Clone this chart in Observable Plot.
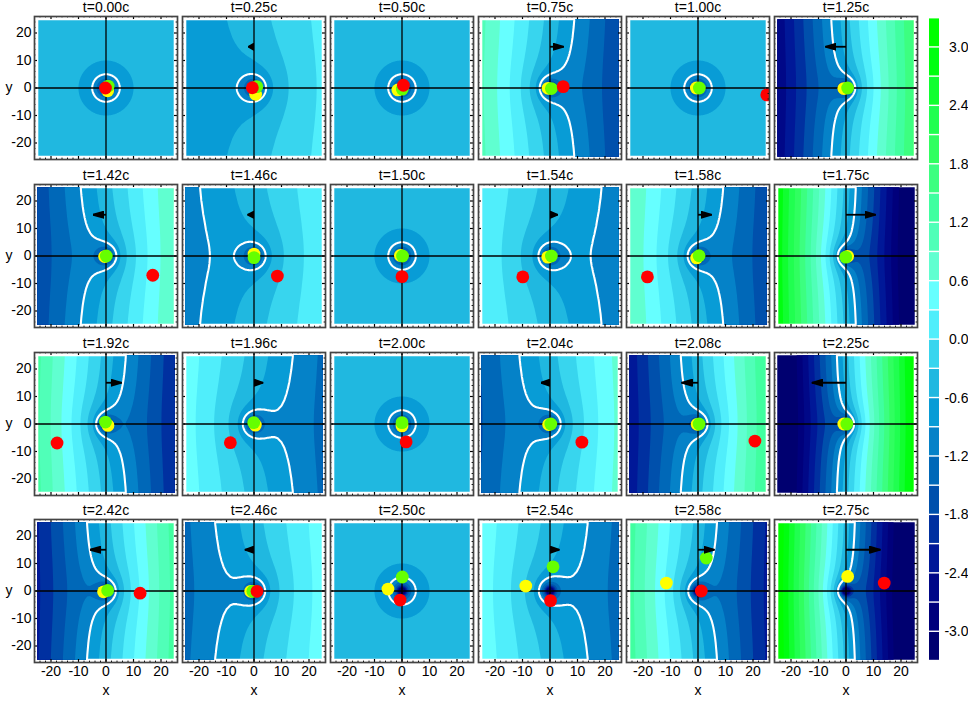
<!DOCTYPE html>
<html>
<head>
<meta charset="utf-8">
<script src="https://cdn.jsdelivr.net/npm/d3@7"></script>
<script src="https://cdn.jsdelivr.net/npm/@observablehq/plot@0.6"></script>
<style>
html,body{margin:0;padding:0;background:#fff;overflow:hidden}
#chart{position:relative;width:968px;height:701px;overflow:hidden}
#chart>svg{position:absolute;overflow:visible}
</style>
</head>
<body>
<div id="chart"></div>
<script>
// ---- panel labels (row by row)
const times = ["0.00","0.25","0.50","0.75","1.00","1.25",
               "1.42","1.46","1.50","1.54","1.58","1.75",
               "1.92","1.96","2.00","2.04","2.08","2.25",
               "2.42","2.46","2.50","2.54","2.58","2.75"];
const slopes = [0,0.019,0,-0.055,0,0.09,
                0.053,0.0257,0,-0.0268,-0.053,-0.135,
                -0.067,-0.035,0,0.044,0.077,0.145,
                0.07,0.035,0,-0.036,-0.07,-0.15];
// ---- arrow tip x at y=15
const arrowTips = [0,-2,0,5,0,-7.5,
                   -4.7,-2.3,0,2.8,5,10.8,
                   5.7,3.3,0,-3.2,-6,-12.4,
                   -5.8,-3.3,0,3.4,6,12.5];
// ---- tracked particles, [x,y] per panel, null when out of view
const yellowDots = [[0.6,-1],[0.6,-2.3],[-1.5,-0.7],[-0.7,-0.1],[-0.6,0],[-0.8,-0.2],
                    [-0.5,-0.2],[0,0.7],[-0.6,0.2],[-0.8,-0.4],[-0.5,-0.7],[0.6,-0.1],
                    [0.7,-0.5],[0.5,-0.4],[0,-0.7],[-0.5,-0.2],[-0.3,-0.1],[-0.8,0],
                    [-0.9,-0.3],[-1.2,-0.1],[-5.1,0.7],[-8.8,1.8],[-11.5,2.9],[0.6,5.3]];
const greenDots = [[0.8,0.7],[1,0.5],[0.1,-0.4],[0.5,-0.2],[0.5,0],[0.6,0],
                   [0.1,0],[0,-0.6],[0.2,0],[0.5,0],[0.4,0.1],[-0.1,-0.4],
                   [-0.2,0.7],[-0.1,0.5],[0,0.5],[0.3,0],[0.4,0],[0.3,0],
                   [0.6,0.2],[-0.4,-0.1],[0.1,5.1],[1.1,8.8],[3,12],null];
const redDots = [[-0.2,0],[-0.6,0.1],[0.5,1],[4.8,0.5],[25,-2.5],null,
                 [17,-7],[8.5,-7.3],[0,-7.5],[-9.9,-7.6],[-18.4,-7.6],null,
                 [-17.8,-6.9],[-8.6,-6.8],[1.5,-6.5],[11.6,-6.6],[20.7,-6.2],null,
                 [12.4,-0.8],[1.1,-0.1],[-0.7,-3.3],[0.2,-3.5],[1.2,0],[13.9,2.9]];
// ---- central potential well: level against distance from the origin
const wellRadius = [0,0.5,1,1.5,2,2.5,3,3.5,4,4.5,5,6,7,8,9,10,12,14,16,18,20,24,28,36];
const wellLevel = [-8,-6.3,-3.3,-2.3,-1.8,-1.5,-1.3,-1.157,-1.05,-0.967,-0.9,-0.8,-0.729,-0.675,-0.633,-0.6,-0.55,-0.514,-0.488,-0.467,-0.45,-0.425,-0.407,-0.383];
// ---- colour bands
const bandEdges = [-3.3,-3.0,-2.7,-2.4,-2.1,-1.8,-1.5,-1.2,-0.9,-0.6,-0.3,0,0.3,0.6,0.9,1.2,1.5,1.8,2.1,2.4,2.7,3.0,3.3];
const bandColors = ["#000070","#00007c","#000888","#001898","#0030a0","#0050ac","#0068b8","#0582c8","#089cd6","#20b8e0","#38d5ee","#50eefb",
                    "#66ffff","#60ffd0","#50ffb8","#40ffa0","#3cff80","#30ff60","#20ff50","#10ff30","#00ff10","#00ff00"];
const colorBreaks = [-3.0,-2.7,-2.4,-2.1,-1.8,-1.5,-1.2,-0.9,-0.6,-0.3,0,0.3,0.6,0.9,1.2,1.5,1.8,2.1,2.4,2.7,3.0];
const fillLevels = [-20,-3.0,-2.7,-2.4,-2.1,-1.8,-1.5,-1.2,-0.9,-0.6,-0.3,0,0.3,0.6,0.9,1.2,1.5,1.8,2.1,2.4,2.7,3.0];
const whiteLevel = [-0.9];
// ---- axes
const majorTicks = [-20,-10,0,10,20];
const minorTicks = [-24,-22,-18,-16,-14,-12,-8,-6,-4,-2,2,4,6,8,12,14,16,18,22,24];
const barTicks = [-3.0,-2.4,-1.8,-1.2,-0.6,0,0.6,1.2,1.8,2.4,3.0];

const FONT = '"Liberation Sans", Arial, sans-serif';
const colX = [34,182,330,478,626,774.3];
const rowY = [16,184,351.5,519];
const PANEL_W = 143, PANEL_H = 143;
const N = 200, SPAN = 50;
const colorScale = {type:"threshold", domain:colorBreaks, range:bandColors};
const well = d3.scaleLinear(wellRadius, wellLevel);
const wellGrid = new Float64Array(N*N);
for (let j=0;j<N;j++) for (let i=0;i<N;i++){
  const gx=-25+(i+.5)*SPAN/N, gy=-25+(j+.5)*SPAN/N;
  wellGrid[j*N+i]=well(Math.hypot(gx,gy));
}
function field(slope){
  const g=new Float64Array(N*N);
  for (let j=0;j<N;j++) for (let i=0;i<N;i++){
    g[j*N+i]=wellGrid[j*N+i]+slope*(-25+(i+.5)*SPAN/N);
  }
  return g;
}
function headMarker(px){
  const h=Math.min(11,Math.max(px,3));
  return ()=>{
    const m=d3.create("svg:marker")
      .attr("viewBox",`${-h} -4 ${h+0.5} 8`).attr("refX",0).attr("refY",0)
      .attr("markerUnits","userSpaceOnUse").attr("markerWidth",h+0.5).attr("markerHeight",8)
      .attr("orient","auto");
    m.append("path").attr("d",`M${-h},-3.2L0,0L${-h},3.2Z`).attr("fill","#000");
    return m.node();
  };
}
const chart=document.getElementById("chart");
times.forEach((t,k)=>{
  const c=k%6,r=Math.floor(k/6);
  const mL=c===0?34:3,mR=2,mT=16,mB=r===3?38:6;
  const grid=field(slopes[k]);
  const dots=[[yellowDots[k],"#ffff00"],[greenDots[k],"#66ff00"],[redDots[k],"#ff0000"]].filter(d=>d[0]);
  const marks=[
    Plot.contour(grid,{width:N,height:N,x1:-25,x2:25,y1:-25,y2:25,fill:Plot.identity,thresholds:fillLevels,blur:0}),
    Plot.contour(grid,{width:N,height:N,x1:-25,x2:25,y1:-25,y2:25,value:Plot.identity,thresholds:whiteLevel,stroke:"white",strokeWidth:2.1,fill:"none",blur:0}),
    Plot.ruleX([0],{stroke:"#000",strokeWidth:1.3}),
    Plot.ruleY([0],{stroke:"#000",strokeWidth:1.3}),
    Plot.dot(dots,{x:d=>d[0][0],y:d=>d[0][1],r:6.4,fill:d=>d[1],stroke:null,clip:true})
  ];
  if(arrowTips[k]!==0){
    marks.push(Plot.link([arrowTips[k]],{x1:0,y1:15,x2:d=>d,y2:15,stroke:"#000",strokeWidth:1.8,markerEnd:headMarker(Math.abs(arrowTips[k])*2.75)}));
  }
  marks.push(
    Plot.ruleX(majorTicks,{x:d=>d,y1:26,y2:24.9,stroke:"#000",strokeWidth:1.2}),
    Plot.ruleX(majorTicks,{x:d=>d,y1:-26,y2:-24.9,stroke:"#000",strokeWidth:1.2}),
    Plot.ruleY(majorTicks,{y:d=>d,x1:26,x2:24.9,stroke:"#000",strokeWidth:1.2}),
    Plot.ruleY(majorTicks,{y:d=>d,x1:-26,x2:-24.9,stroke:"#000",strokeWidth:1.2}),
    Plot.ruleX(minorTicks,{x:d=>d,y1:26,y2:25.5,stroke:"#000",strokeWidth:1}),
    Plot.ruleX(minorTicks,{x:d=>d,y1:-26,y2:-25.5,stroke:"#000",strokeWidth:1}),
    Plot.ruleY(minorTicks,{y:d=>d,x1:26,x2:25.5,stroke:"#000",strokeWidth:1}),
    Plot.ruleY(minorTicks,{y:d=>d,x1:-26,x2:-25.5,stroke:"#000",strokeWidth:1}),
    Plot.frame({stroke:"#444",strokeWidth:1.7}),
    Plot.text(["t="+t+"c"],{frameAnchor:"top",dy:-5,lineAnchor:"bottom",fontSize:14,fill:"#000"})
  );
  if(c===0) marks.push(
    Plot.axisY(majorTicks,{anchor:"left",tickSize:0,tickPadding:3,tickFormat:d=>String(d),label:null,fontSize:14,color:"#000"}),
    Plot.text(["y"],{frameAnchor:"left",dx:-29,fontSize:14,fill:"#000"})
  );
  if(r===3) marks.push(
    Plot.axisX(majorTicks,{anchor:"bottom",tickSize:0,tickPadding:4,tickFormat:d=>String(d),label:null,fontSize:14,color:"#000"}),
    Plot.text(["x"],{frameAnchor:"bottom",dy:28,lineAnchor:"middle",fontSize:14,fill:"#000"})
  );
  const svg=Plot.plot({
    width:PANEL_W+mL+mR,height:PANEL_H+mT+mB,
    marginLeft:mL,marginRight:mR,marginTop:mT,marginBottom:mB,
    x:{domain:[-26,26],axis:null},y:{domain:[-26,26],axis:null},
    color:colorScale,
    style:{fontFamily:FONT,fontSize:"14px",background:"transparent",overflow:"visible"},
    marks
  });
  svg.style.left=(colX[c]-mL)+"px";
  svg.style.top=(rowY[r]-mT)+"px";
  chart.appendChild(svg);
});
// colour bar
const bar=Plot.plot({
  width:43,height:680,marginLeft:4,marginRight:29,marginTop:17.7,marginBottom:19.5,
  x:{domain:[0,1],axis:null},y:{domain:[-3.3,3.3],axis:null},
  color:colorScale,
  style:{fontFamily:FONT,fontSize:"14px",background:"transparent",overflow:"visible"},
  marks:[
    Plot.rect(d3.range(bandColors.length),{x1:0,x2:1,y1:i=>bandEdges[i],y2:i=>bandEdges[i+1],fill:i=>bandEdges[i]+0.001,insetTop:0.7,insetBottom:0.7}),
    Plot.text(barTicks,{y:d=>d,text:d=>d.toFixed(1),frameAnchor:"right",textAnchor:"end",dx:29,fontSize:14,fill:"#000"})
  ]
});
bar.style.left="925px";bar.style.top="0px";
chart.appendChild(bar);
</script>
</body>
</html>
